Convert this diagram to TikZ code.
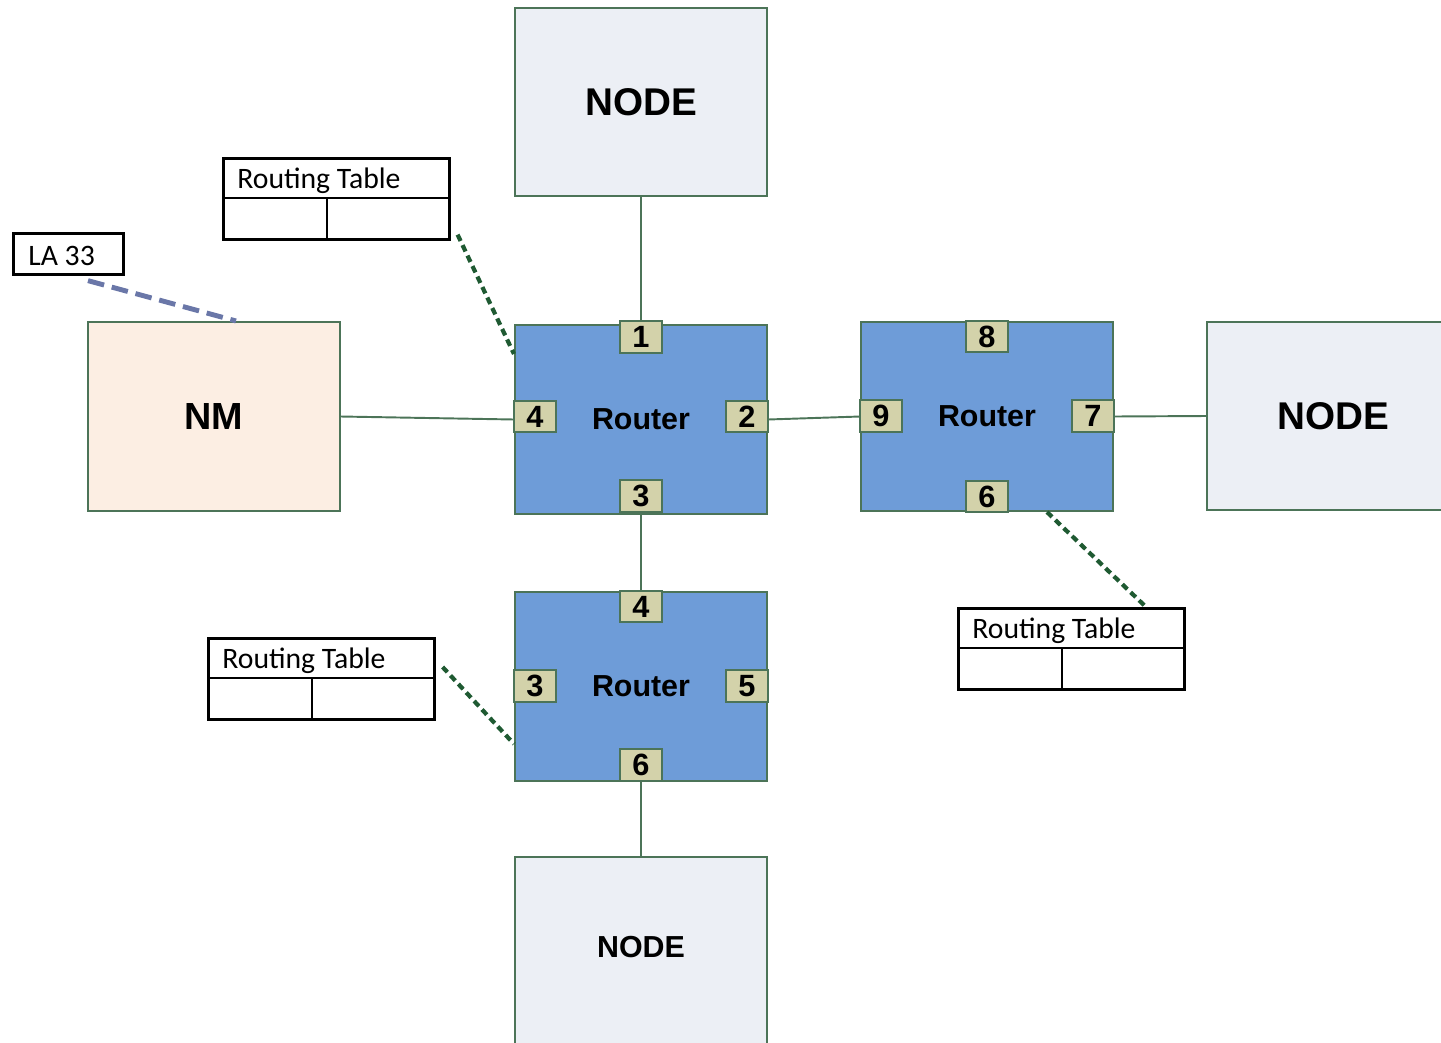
\documentclass[tikz,border=0pt]{standalone}
\usepackage{fontspec}
\setmainfont{Carlito}
\newfontfamily\boxfont{Liberation Sans}
\usetikzlibrary{calc}

\definecolor{edgegreen}{HTML}{4C7458}
\definecolor{routerblue}{HTML}{6E9CD8}
\definecolor{portkhaki}{HTML}{D3D2AA}
\definecolor{nodegray}{HTML}{ECEFF5}
\definecolor{nmpeach}{HTML}{FCEEE3}
\definecolor{linkgreen}{HTML}{1F5A32}
\definecolor{laslate}{HTML}{6A77A8}

\tikzset{
  box/.style={draw=edgegreen, line width=1.2pt, rectangle, inner sep=0pt},
  nodebox/.style={box, fill=nodegray, minimum width=5.04cm},
  nmbox/.style={box, fill=nmpeach, minimum width=5.04cm, minimum height=3.78cm,
    font=\boxfont\bfseries\fontsize{21.5}{24}\selectfont},
  routerbox/.style={box, fill=routerblue, minimum width=5.04cm, minimum height=3.78cm,
    font=\boxfont\bfseries\fontsize{17.3}{20}\selectfont},
  port/.style={box, fill=portkhaki, minimum width=0.84cm, minimum height=0.63cm,
    font=\boxfont\bfseries\fontsize{17.5}{19}\selectfont},
  wire/.style={draw=edgegreen, line width=1.1pt},
  tablelink/.style={draw=linkgreen, line width=2.4pt, dash pattern=on 4pt off 2.6pt},
  lalink/.style={draw=laslate, line width=2.8pt, dash pattern=on 9.5pt off 4.5pt},
  tablebox/.style={draw=black, line width=1.5pt, rectangle, minimum width=4.52cm,
    minimum height=1.62cm, inner sep=0pt},
  tabletext/.style={font=\fontsize{16.9}{19}\selectfont, inner sep=0pt, anchor=west},
}

% routing table: outer frame, header rule and one column rule
\newcommand{\routingtable}[3]{%
  \node[tablebox, anchor=north west] (#1) at (#2,#3) {};
  \draw[line width=1.5pt] ($(#1.north west)+(0,41)$) -- ($(#1.north east)+(0,41)$);
  \draw[line width=1.5pt] ($(#1.north west)+(105,41)$) -- ($(#1.south west)+(105,0)$);
  \node[tabletext] (#1-title) at ($(#1.north west)+(15,24)$) {Routing Table};
}

\begin{document}
\begin{tikzpicture}[x=0.02cm, y=-0.02cm]
\useasboundingbox (0,0) rectangle (1441,1042);
\clip (0,0) rectangle (1441,1042);

% end nodes and the network manager
\node[nodebox, minimum height=3.76cm, font=\boxfont\bfseries\fontsize{22}{26}\selectfont]
  (nodeT) at (641,102) {NODE};
\node[nodebox, minimum height=3.76cm, font=\boxfont\bfseries\fontsize{22}{26}\selectfont]
  (nodeR) at (1333,416) {NODE};
\node[nodebox, minimum height=4.1cm, anchor=north] (nodeB) at (641,856) {};
\node[font=\boxfont\bfseries\fontsize{17.3}{20}\selectfont] (nodeBtext) at (641,947) {NODE};
\node[nmbox] (nm) at (214,416.5) {NM};

% routers
\node[routerbox] (r1) at (641,419.5) {Router};
\node[routerbox] (r2) at (987,416.5) {Router};
\node[routerbox] (r3) at (641,686.5) {Router};

% links between nodes and routers
\draw[wire] (nodeT.south) -- (r1.north);
\draw[wire] (r1.south) -- (r3.north);
\draw[wire] (r3.south) -- (nodeB.north);
\draw[wire] (nm.east) -- (r1.west);
\draw[wire] (r1.east) -- (r2.west);
\draw[wire] (r2.east) -- (nodeR.west);

% router ports
\node[port] (p1) at ($(r1.north)+(0,13)$) {1};
\node[port] (p4) at ($(r1.west)+(21,-3)$) {4};
\node[port] (p2) at ($(r1.east)+(-21,-3)$) {2};
\node[port] (p3) at ($(r1.south)+(0,-19)$) {3};

\node[port] (q8) at ($(r2.north)+(0,15.5)$) {8};
\node[port] (q9) at ($(r2.west)+(21,-0.5)$) {9};
\node[port] (q7) at ($(r2.east)+(-21,-0.5)$) {7};
\node[port] (q6) at ($(r2.south)+(0,-15.5)$) {6};

\node[port] (s4) at ($(r3.north)+(0,15.5)$) {4};
\node[port] (s3) at ($(r3.west)+(21,-0.5)$) {3};
\node[port] (s5) at ($(r3.east)+(-21,-0.5)$) {5};
\node[port] (s6) at ($(r3.south)+(0,-17)$) {6};

% routing tables and their links
\routingtable{rtA}{222}{157}
\routingtable{rtB}{957}{607}
\routingtable{rtC}{207}{637}

\draw[tablelink] ($(rtA.south east)+(7,-6)$) -- ($(r1.north west)+(0,30)$);
\draw[tablelink] ($(r2.south west)+(187,0)$) -- ($(rtB.north west)+(189,0)$);
\draw[tablelink] ($(rtC.north east)+(7,30)$) -- ($(r3.north west)+(0,153)$);

% logical address tag of the network manager
\node[draw=black, line width=1.5pt, minimum width=2.2cm, minimum height=0.82cm,
  inner sep=0pt, anchor=north west] (la) at (12,232) {};
\node[tabletext] (latext) at ($(la.west)+(16,2)$) {LA 33};
\draw[lalink] ($(la.south west)+(76,5)$) -- ($(nm.north west)+(149,0)$);
\end{tikzpicture}
\end{document}
